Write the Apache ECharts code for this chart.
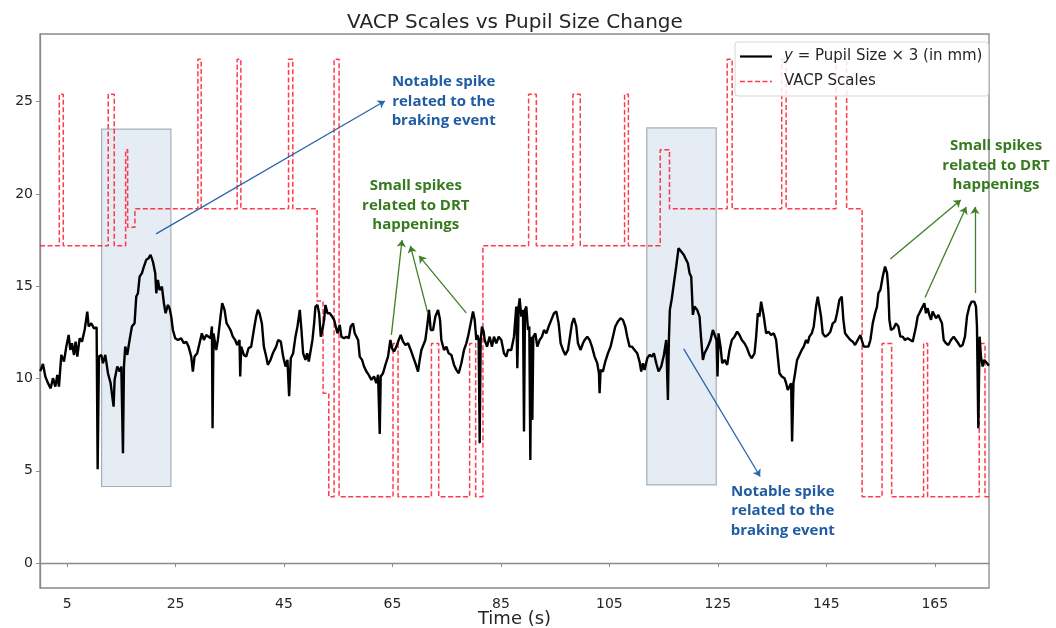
<!DOCTYPE html>
<html><head><meta charset="utf-8">
<script src="https://cdn.jsdelivr.net/npm/echarts@6/dist/echarts.min.js"></script>
<style>html,body{margin:0;padding:0;background:#fff}#c{width:1056px;height:628px}</style>
</head><body><div id="c"></div>
<script>
// ---- tick labels ----
const xTicks = [5, 25, 45, 65, 85, 105, 125, 145, 165];
const yTicks = [0, 5, 10, 15, 20, 25];

// ---- VACP scale (step, value holds from time t onward) ----
const vacpTime  = [0,3.56,4.29,12.58,13.69,15.79,16.16,17.5,29.11,29.72,36.36,37.04,45.83,46.62,51.1,52.2,53.25,54.23,55.15,65.1,66.02,72.18,73.52,79.23,80.34,81.68,90.1,91.52,98.27,99.63,107.8,108.5,114.37,116.08,126.72,127.64,136.78,137.59,146.8,148.75,151.6,155.28,157.05,162.94,163.68,173.2,174.26,175];
const vacpValue = [17.2,25.4,17.2,25.4,17.2,22.4,18.2,19.2,27.3,19.2,27.3,19.2,27.3,19.2,14.2,9.2,3.6,27.3,3.6,11.9,3.6,11.9,3.6,11.9,3.6,17.2,25.4,17.2,25.4,17.2,25.4,17.2,22.4,19.2,27.3,19.2,27.3,19.2,27.3,19.2,3.6,11.9,3.6,11.9,3.6,11.9,3.6,3.6];

// ---- Pupil size x3 trace [time (s), value] ----
const pupilTrace = [[0.05,10.4],[0.55,10.79],[0.98,10.11],[1.47,9.75],[1.97,9.47],[2.39,10.02],[2.83,9.56],[3.19,10.2],[3.5,9.56],[3.93,11.28],[4.42,10.92],[4.85,11.73],[5.28,12.36],[5.59,11.55],[5.9,11.91],[6.27,11.28],[6.57,12.0],[6.88,11.19],[7.31,12.18],[7.74,12.0],[8.23,12.63],[8.72,13.63],[8.97,12.82],[9.46,13.0],[9.95,12.72],[10.44,12.78],[10.63,5.09],[10.87,11.19],[11.3,11.28],[11.61,10.83],[12.04,11.28],[12.53,10.29],[13.02,9.75],[13.33,9.84],[13.57,8.48],[13.76,9.93],[14.25,10.65],[14.68,10.38],[14.99,10.65],[15.3,5.95],[15.48,10.65],[15.72,11.73],[16.09,11.28],[16.52,12.09],[16.95,12.82],[17.44,13.0],[17.75,14.44],[18.06,14.62],[18.37,15.52],[18.8,15.71],[19.16,16.07],[19.59,16.43],[20.02,16.52],[20.39,16.7],[20.82,16.34],[21.25,15.71],[21.44,14.62],[21.74,15.34],[22.05,14.8],[22.48,14.98],[22.85,14.08],[23.16,13.54],[23.59,13.99],[23.89,13.81],[24.2,13.36],[24.51,12.63],[24.94,12.18],[25.43,12.09],[26.04,12.18],[26.53,11.91],[26.97,12.0],[27.4,11.73],[27.89,11.19],[28.19,10.38],[28.5,11.19],[28.99,11.37],[29.42,11.91],[29.85,12.45],[30.22,12.09],[30.65,12.36],[31.08,12.27],[31.45,12.18],[31.7,12.82],[31.82,7.31],[32.0,12.45],[32.49,11.55],[32.8,12.09],[33.29,13.36],[33.6,14.08],[34.03,13.72],[34.4,13.0],[34.77,12.82],[35.13,12.63],[35.56,12.27],[35.99,12.09],[36.36,11.82],[36.79,12.09],[36.92,10.11],[37.1,11.73],[37.59,11.28],[38.02,11.19],[38.45,11.64],[38.94,11.73],[39.43,12.63],[39.86,13.36],[40.17,13.72],[40.48,13.54],[40.91,13.0],[41.28,11.73],[41.71,11.19],[42.01,10.74],[42.51,11.01],[42.94,11.37],[43.55,11.73],
[43.91,12.09],[44.41,12.0],[44.84,11.19],[45.27,10.65],[45.63,11.01],[45.94,9.05],[46.25,11.1],[46.68,11.37],[47.11,12.27],[47.48,12.82],[47.91,13.72],[48.21,12.63],[48.52,11.37],[48.95,11.01],[49.26,11.37],[49.57,10.92],[49.93,11.55],[50.24,12.09],[50.55,12.99],[50.79,13.9],[51.16,13.99],[51.47,13.54],[51.78,12.27],[52.08,12.63],[52.39,13.18],[52.64,13.99],[53.01,13.54],[53.44,13.54],[53.87,13.36],[54.23,13.18],[54.54,12.82],[54.85,12.45],[55.28,12.91],[55.58,12.27],[56.08,12.18],[56.51,12.27],[56.94,12.18],[57.3,12.82],[57.73,12.99],[58.04,12.45],[58.35,12.27],[58.66,12.09],[58.96,11.19],[59.39,11.01],[59.76,10.65],[60.19,10.38],[60.62,10.2],[61.11,9.93],[61.6,10.11],[62.03,9.75],[62.34,10.2],[62.65,7.0],[62.83,10.11],[63.26,10.29],[63.69,10.74],[64.18,11.19],[64.61,12.09],[64.92,11.64],[65.29,11.46],[65.72,11.73],[66.15,12.09],[66.52,12.36],[66.95,12.0],[67.38,11.82],[67.87,11.91],[68.36,11.55],[68.79,11.19],[69.22,10.83],[69.71,10.38],[70.02,11.01],[70.33,11.55],[70.63,11.55],[71.06,12.09],[71.43,12.91],[71.74,13.72],[72.05,12.63],[72.48,12.63],[72.91,13.36],[73.4,13.72],[73.77,13.18],[74.01,12.09],[74.5,11.55],[74.93,11.73],[75.36,11.37],[75.86,11.28],[76.35,10.74],[76.78,10.47],[77.21,10.29],[77.7,10.83],[78.19,11.55],[78.62,11.91],[78.93,12.27],[79.42,12.99],[79.85,13.63],[80.16,13.18],[80.46,12.09],[80.65,12.36],[80.89,12.09],[81.08,6.5],[81.26,12.09],[81.5,12.82],[81.81,12.54],[82.0,12.09],[82.43,11.73],[82.92,12.27],[83.35,11.73],[83.72,12.27],[84.15,11.91],[84.58,12.27],[85.07,12.09],[85.56,11.37],[85.99,11.19],[86.3,11.55],[86.91,11.55],[87.4,12.27],[87.83,13.9],
[88.02,10.56],[88.27,13.9],[88.45,14.35],[88.76,13.36],[89.07,13.72],[89.25,7.13],[89.43,13.72],[89.68,13.9],[89.99,12.63],[90.23,12.82],[90.42,5.59],[90.6,12.27],[90.79,7.76],[90.97,12.27],[91.34,12.45],[91.71,11.73],[92.14,12.09],[92.57,12.27],[92.94,12.63],[93.37,12.45],[93.8,12.82],[94.29,13.18],[94.78,13.54],[95.21,13.63],[95.64,12.99],[96.01,11.91],[96.44,11.55],[96.87,11.28],[97.36,11.55],[97.73,12.27],[98.1,12.99],[98.46,13.27],[98.89,12.82],[99.2,11.91],[99.69,11.55],[100.12,11.91],[100.43,12.09],[100.92,12.27],[101.35,12.09],[101.78,11.73],[102.27,11.19],[102.76,10.83],[103.07,10.29],[103.19,9.2],[103.38,10.47],[103.81,10.38],[104.24,10.92],[104.73,11.37],[105.22,11.73],[105.65,12.27],[106.08,12.82],[106.57,13.09],[107.06,13.27],[107.49,13.18],[107.92,12.82],[108.29,12.27],[108.72,11.73],[109.15,11.73],[109.64,11.55],[110.13,11.37],[110.56,10.92],[110.87,10.38],[111.18,10.83],[111.49,10.47],[111.98,11.1],[112.41,11.28],[112.84,11.19],[113.21,11.37],[113.64,10.83],[114.07,10.38],[114.56,10.65],[115.05,11.28],[115.48,12.09],[115.79,8.84],[115.97,12.09],[116.15,13.72],[116.52,14.35],[116.89,15.16],[117.32,16.07],[117.75,17.06],[118.24,16.88],[118.74,16.7],[119.16,16.43],[119.47,16.25],[119.78,15.71],[120.09,15.52],[120.39,13.45],[120.7,13.9],[121.19,13.72],[121.62,13.36],[121.93,12.09],[122.24,11.01],[122.54,11.37],[122.85,11.55],[123.16,11.73],[123.65,12.09],[124.08,12.63],[124.39,12.63],[124.75,12.09],[124.94,10.11],[125.12,12.45],[125.49,11.73],[125.8,10.83],[126.23,11.01],[126.72,10.74],[127.15,11.55],[127.58,12.09],[128.07,12.27],[128.56,12.54],[128.99,12.36],[129.42,12.09],[129.91,11.91],[130.4,11.64],[130.83,11.28],[131.26,11.1],[131.76,11.37],[132.06,12.27],[132.37,13.54],
[132.67,13.36],[132.98,14.17],[133.47,13.36],[133.9,12.45],[134.33,12.54],[134.82,12.36],[135.31,12.45],[135.74,12.09],[136.05,11.19],[136.36,10.29],[136.79,10.11],[137.28,10.02],[137.59,9.75],[137.89,9.38],[138.2,9.29],[138.51,9.75],[138.69,6.59],[138.94,9.75],[139.24,10.29],[139.61,11.01],[140.04,11.28],[140.47,11.55],[140.84,11.73],[141.27,12.09],[141.58,11.91],[141.88,12.27],[142.32,12.45],[142.68,12.82],[143.11,13.9],[143.42,14.44],[143.73,14.53],[144.03,13.36],[144.34,12.45],[144.77,12.27],[145.26,12.36],[145.75,12.54],[146.18,12.99],[146.62,13.09],[146.98,13.54],[147.41,14.26],[147.84,14.44],[148.15,13.18],[148.46,12.45],[148.95,12.27],[149.44,12.09],[149.87,12.0],[150.3,11.82],[150.79,12.09],[151.28,12.36],[151.53,12.09],[151.9,11.73],[152.33,11.73],[152.76,11.73],[153.13,12.09],[153.56,12.99],[153.99,13.54],[154.35,13.9],[154.6,14.62],[154.97,14.8],[155.4,15.52],[155.83,16.07],[156.2,15.71],[156.44,14.8],[156.63,13.18],[156.93,12.63],[157.43,12.72],[157.86,12.99],[158.29,12.82],[158.65,12.27],[159.08,12.27],[159.51,12.09],[160.01,12.18],[160.5,12.09],[160.93,12.0],[161.23,11.91],[161.54,12.82],[161.85,13.36],[162.16,13.54],[162.46,13.72],[162.77,13.9],[163.08,14.08],[163.38,13.54],[163.69,13.81],[164.0,13.45],[164.31,13.18],[164.61,13.63],[164.92,13.54],[165.23,13.27],[165.66,13.45],[166.03,13.18],[166.33,12.99],[166.64,12.09],[167.07,11.91],[167.5,11.82],[167.99,12.09],[168.48,12.27],[168.91,12.09],[169.34,11.91],[169.71,11.73],[170.14,11.82],[170.57,12.27],[170.94,13.36],[171.37,13.9],[171.8,14.17],[172.29,14.17],[172.6,13.9],[172.78,12.82],[173.03,7.31],[173.27,12.27],[173.52,11.19],[173.83,10.65],[174.13,11.01],[174.62,10.83],[175,10.7]];

// ---- shaded braking windows: [t0, t1, v0, v1] ----
const brakingBoxes = [[11.36, 24.14, 4.15, 23.51], [111.9, 124.7, 4.24, 23.58]];

// ---- annotation notes: text, anchor [t, v], colour key ----
const noteTexts = ['Notable spike\nrelated to the\nbraking event', 'Small spikes\nrelated to DRT\nhappenings', 'Small spikes\nrelated to DRT\nhappenings', 'Notable spike\nrelated to the\nbraking event'];
const noteAnchors = [[74.44, 25.0], [69.3, 19.37], [176.3, 21.54], [136.97, 2.83]];
const noteKinds = ['blue', 'green', 'green', 'blue'];

// ---- arrows: tail [t, v] -> head [t, v] ----
const arrowTails = [[21.4, 17.84], [64.8, 12.37], [71.5, 13.56], [78.6, 13.56], [156.8, 16.48], [163.2, 14.39], [172.4, 14.63], [118.7, 11.61]];
const arrowHeads = [[63.6, 25.04], [66.76, 17.51], [68.3, 17.19], [69.9, 16.65], [169.8, 19.68], [170.8, 19.3], [172.4, 19.3], [132.8, 4.69]];
const arrowKinds = ['blue', 'green', 'green', 'green', 'green', 'green', 'green', 'blue'];

const COLORS = { blue: '#2a66ab', green: '#3f7f26' };
const TEXT_COLORS = { blue: '#1f5ca3', green: '#367a1e' };
const RED = 'rgba(255,25,45,0.85)';

const chart = echarts.init(document.getElementById('c'), null, { renderer: 'canvas' });

const vacpData = vacpTime.map((t, i) => [t, vacpValue[i]]);

const option = {
  animation: false,
  backgroundColor: '#ffffff',
  title: {
    text: 'VACP Scales vs Pupil Size Change',
    left: 342, top: 8,
    textStyle: { fontFamily: 'DejaVu Sans', fontSize: 20, fontWeight: 'normal', color: '#262626' }
  },
  legend: {
    orient: 'vertical',
    left: 735, top: 42,
    padding: [7, 6, 7, 5],
    itemWidth: 32, itemHeight: 14, itemGap: 10,
    backgroundColor: 'rgba(255,255,255,0.85)',
    borderColor: '#d6d6d6', borderWidth: 1, borderRadius: 3,
    data: [
      { name: 'pupil', icon: 'path://M0,0H32V2.2H0Z' },
      { name: 'VACP Scales', icon: 'path://M0,0h5v1.6h-5z M7.5,0h5v1.6h-5z M15,0h5v1.6h-5z M22.5,0h5v1.6h-5z M30,0h2v1.6h-2z' }
    ],
    formatter: function (name) {
      return name === 'pupil' ? '{i|y} = Pupil Size × 3 (in mm)' : 'VACP Scales';
    },
    textStyle: {
      fontFamily: 'DejaVu Sans', fontSize: 15, color: '#262626', padding: [0, 0, 0, 7],
      rich: { i: { fontStyle: 'italic', fontFamily: 'DejaVu Sans', fontSize: 15, color: '#262626' } }
    }
  },
  grid: {
    left: 40, right: 67, top: 34, bottom: 40,
    outerBoundsMode: 'none', containLabel: false,
    show: true, borderColor: '#8a8a8a', borderWidth: 1.3, backgroundColor: 'transparent'
  },
  xAxis: {
    type: 'value', min: 0, max: 175,
    name: 'Time (s)', nameLocation: 'middle', nameGap: 22, nameMoveOverlap: false,
    nameTextStyle: { fontFamily: 'DejaVu Sans', fontSize: 18, color: '#262626', verticalAlign: 'top', lineHeight: 18 },
    axisLine: { show: true, lineStyle: { color: '#8a8a8a', width: 1.3 } },
    axisTick: { show: true, length: 4, lineStyle: { color: '#8a8a8a' }, customValues: xTicks },
    axisLabel: { fontFamily: 'DejaVu Sans', fontSize: 14, color: '#262626', margin: 9, customValues: xTicks },
    splitLine: { show: false }
  },
  yAxis: {
    type: 'value', min: -1.35, max: 28.67,
    axisLine: { show: true, lineStyle: { color: '#8a8a8a', width: 1.3 } },
    axisTick: { show: true, length: 4, lineStyle: { color: '#8a8a8a' }, customValues: yTicks },
    axisLabel: { fontFamily: 'DejaVu Sans', fontSize: 14, color: '#262626', margin: 7, customValues: yTicks },
    splitLine: { show: false }
  },
  series: [
    {
      name: 'VACP Scales', type: 'line', step: 'end', z: 2,
      data: vacpData, showSymbol: false, symbol: 'none',
      lineStyle: { color: RED, width: 1.5, type: [5, 2.5] },
      itemStyle: { color: RED },
      emphasis: { disabled: true }, silent: true
    },
    {
      name: 'boxes', type: 'line', data: [], z: 3, silent: true,
      markArea: {
        silent: true,
        itemStyle: { color: 'rgba(176,196,222,0.32)', borderColor: 'rgba(112,128,144,0.6)', borderWidth: 1.2 },
        data: brakingBoxes.map(b => [{ coord: [b[0], b[2]] }, { coord: [b[1], b[3]] }])
      }
    },
    {
      name: 'pupil', type: 'line', z: 4,
      data: pupilTrace, showSymbol: false, symbol: 'none',
      lineStyle: { color: '#000000', width: 2.4 },
      itemStyle: { color: '#000000' },
      emphasis: { disabled: true }, silent: true
    },
    {
      name: 'arrows', type: 'line', data: [], z: 5, silent: true,
      markLine: {
        silent: true, symbol: ['none', 'arrow'], symbolSize: 7,
        label: { show: false },
        data: arrowTails.map((a, i) => [
          { coord: a, lineStyle: { color: COLORS[arrowKinds[i]], width: 1.3, type: 'solid' }, itemStyle: { color: COLORS[arrowKinds[i]] } },
          { coord: arrowHeads[i] }
        ])
      }
    },
    {
      name: 'notes', type: 'scatter', z: 6, clip: false, silent: true,
      symbolSize: 1, itemStyle: { color: 'rgba(0,0,0,0)' },
      data: noteAnchors.map((p, i) => ({
        value: p,
        label: {
          show: true, position: 'inside', formatter: noteTexts[i],
          fontFamily: 'Open Sans', fontWeight: 'bold', fontSize: 15, lineHeight: 19.5,
          color: TEXT_COLORS[noteKinds[i]], opacity: 1,
          textBorderWidth: 0, textBorderColor: 'transparent', textShadowBlur: 0,
          align: 'center', verticalAlign: 'middle'
        }
      }))
    }
  ]
};
chart.setOption(option);
</script>
</body></html>
